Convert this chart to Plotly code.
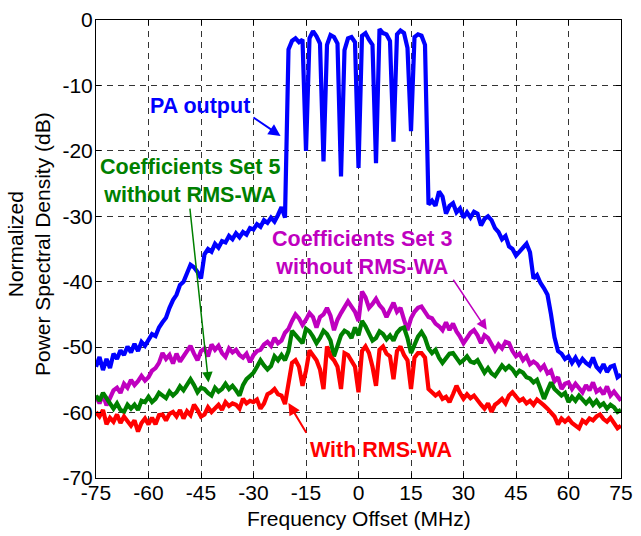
import plotly.graph_objects as go

# Frequency offset (MHz), 1 MHz steps
freq = list(range(-75, 76))

pa_output = [
    -53.0, -51.5, -53.5, -51.8, -53.2, -51.0, -51.8, -50.5, -51.2, -49.9,   # -75..-66
    -50.8, -49.5, -50.6, -49.2, -49.8, -48.8, -48.0, -48.3, -47.0, -46.2,   # -65..-56
    -45.5, -44.0, -42.8, -42.0, -40.5, -40.0, -38.6, -37.4, -37.8, -38.5,   # -55..-46
    -39.5, -35.8, -35.0, -35.4, -34.2, -34.8, -33.8, -34.0, -33.0, -33.5,   # -45..-36
    -32.6, -33.2, -32.4, -32.8, -31.8, -32.0, -31.2, -31.6, -30.6, -31.0,   # -35..-26
    -30.2, -30.8, -29.8, -28.6, -30.2, -4.5, -3.2, -2.8, -3.4, -3.0,        # -25..-16
    -20.0, -2.8, -1.7, -2.5, -3.6, -21.6, -3.8, -2.3, -2.6, -3.6,           # -15..-6
    -23.9, -4.6, -2.8, -2.6, -3.4, -22.6, -2.4, -2.0, -3.0, -3.8,           # -5..4
    -21.9, -1.4, -2.0, -2.2, -3.2, -18.6, -2.2, -1.6, -2.0, -4.3,           # 5..14
    -17.0, -2.6, -2.2, -2.4, -3.8, -28.2, -27.6, -28.4, -26.2, -27.0,       # 15..24
    -29.6, -28.4, -28.0, -29.4, -28.8, -30.2, -29.4, -30.2, -29.3, -29.6,   # 25..34
    -31.4, -30.4, -30.0, -30.6, -31.8, -32.4, -33.5, -33.0, -34.6, -35.0,   # 35..44
    -36.0, -35.4, -34.6, -34.2, -35.5, -39.5, -39.0, -40.2, -41.0, -42.0,   # 45..54
    -45.0, -48.5, -50.6, -51.0, -51.8, -51.4, -52.4, -51.6, -52.6, -51.8,   # 55..64
    -52.4, -52.8, -51.6, -53.0, -53.6, -52.6, -53.8, -53.0, -52.8, -54.6,   # 65..74
    -54.2,                                                                  # 75
]

set3_no_rmswa = [
    -57.5, -58.6, -57.2, -58.9, -57.8, -56.6, -56.2, -57.0, -55.6, -56.2,
    -55.0, -55.8, -55.2, -54.4, -55.1, -54.6, -53.6, -53.2, -52.4, -50.9,
    -51.8, -51.2, -52.5, -51.0, -52.2, -51.4, -50.4, -49.8, -51.0, -52.0,
    -50.6, -50.2, -51.4, -49.6, -50.4, -49.8, -50.9, -51.5, -50.2, -50.8,
    -50.4, -51.2, -51.6, -51.0, -52.3, -51.2, -50.6, -50.4, -49.6, -49.2,
    -49.8, -48.6, -49.4, -49.0, -47.8, -47.2, -46.0, -45.0, -45.6, -46.6,
    -45.8, -44.8, -45.4, -47.0, -45.4, -45.0, -44.0, -45.2, -47.4, -45.8,
    -44.8, -44.0, -43.0, -43.8, -44.6, -46.0, -41.5, -42.4, -44.0, -43.4,
    -42.6, -43.6, -44.2, -45.4, -44.4, -43.2, -44.6, -44.0, -45.8, -47.4,
    -45.6, -44.6, -44.0, -43.8, -44.6, -45.4, -45.6, -46.4, -46.8, -47.4,
    -46.2, -47.4, -46.4, -47.6, -48.4, -49.4, -48.6, -47.8, -47.4, -48.2,
    -49.4, -48.2, -48.6, -49.6, -50.5, -49.6, -50.2, -49.2, -49.4, -50.6,
    -51.4, -51.0, -52.0, -51.4, -52.6, -52.2, -52.6, -53.4, -52.8, -54.0,
    -53.6, -55.2, -54.6, -56.4, -55.6, -55.4, -56.4, -55.6, -56.2, -56.9,
    -55.8, -56.6, -55.4, -56.8, -56.4, -57.2, -56.0, -57.4, -56.8, -57.6,
    -58.2,
]

set5_no_rmswa = [
    -57.4, -58.2, -57.0, -57.9, -58.6, -59.4, -58.6, -59.6, -59.9, -58.8,
    -59.4, -58.8, -59.6, -58.2, -58.4, -57.6, -58.4, -57.9, -57.0, -57.4,
    -57.8, -56.8, -57.4, -56.9, -56.0, -56.6, -55.6, -54.9, -55.8, -56.9,
    -56.2, -56.4, -57.0, -57.4, -56.2, -56.8, -56.4, -55.6, -56.4, -55.9,
    -56.6, -57.4, -55.8, -54.9, -54.4, -53.9, -53.0, -52.0, -52.8, -53.4,
    -52.9, -51.4, -52.0, -51.2, -52.0, -50.6, -47.5, -48.2, -48.8, -49.4,
    -47.2, -47.6, -48.4, -49.4, -48.6, -47.5, -48.0, -49.0, -51.4, -49.6,
    -48.2, -47.5, -47.8, -48.6, -47.0, -48.2, -46.0, -46.8, -47.8, -49.0,
    -48.6, -47.6, -48.0, -48.8, -48.2, -49.0, -47.8, -47.2, -47.0, -48.6,
    -50.9, -49.6, -48.4, -47.7, -48.6, -50.2, -50.9, -50.4, -51.6, -52.4,
    -51.8, -51.0, -50.9, -51.6, -52.4, -52.0, -51.4, -52.2, -52.4, -52.0,
    -53.0, -53.9, -53.2, -54.0, -54.4, -53.6, -52.8, -53.4, -52.9, -53.4,
    -54.2, -53.6, -53.9, -54.6, -54.8, -55.4, -55.0, -56.4, -57.9, -56.6,
    -55.4, -56.4, -57.0, -57.4, -57.0, -58.4, -57.6, -58.2, -57.4, -57.9,
    -58.6, -58.0, -58.8, -58.2, -59.0, -58.6, -59.4, -58.8, -59.2, -59.9,
    -59.6,
]

with_rmswa = [
    -59.9, -60.6, -59.6, -61.8, -60.8, -61.4, -60.3, -61.6, -60.6, -61.4,
    -62.0, -61.2, -62.9, -61.6, -60.9, -61.8, -60.8, -61.8, -60.4, -60.3,
    -61.2, -60.2, -59.9, -60.6, -59.6, -60.9, -59.8, -60.4, -58.8, -59.6,
    -60.6, -60.3, -59.2, -59.9, -59.4, -58.8, -59.6, -58.4, -59.0, -58.6,
    -58.8, -59.4, -57.9, -58.6, -58.2, -58.4, -58.0, -59.4, -58.6, -57.2,
    -56.9, -56.4, -57.2, -57.4, -58.7, -55.0, -52.4, -52.0, -53.0, -55.9,
    -53.6, -50.5, -51.4, -52.0, -53.4, -56.4, -49.9, -51.4, -52.0, -53.0,
    -56.4, -50.9, -51.2, -52.0, -53.0, -56.9, -50.6, -49.9, -50.9, -53.0,
    -55.9, -50.4, -49.9, -51.0, -51.4, -54.9, -50.6, -49.9, -51.2, -52.0,
    -56.4, -51.6, -50.9, -50.9, -51.6, -56.4, -57.0, -57.4, -57.0, -57.9,
    -57.6, -58.4, -57.2, -55.9, -57.0, -57.9, -57.2, -57.8, -57.4, -58.2,
    -58.8, -59.4, -58.6, -59.9, -58.8, -58.4, -57.9, -58.6, -57.4, -56.9,
    -57.6, -58.2, -57.9, -58.6, -58.2, -58.8, -58.0, -58.4, -58.9, -59.4,
    -59.9, -60.6, -61.8, -60.9, -61.4, -60.9, -61.6, -62.0, -62.4, -61.2,
    -61.6, -60.9, -61.2, -60.6, -60.3, -61.0, -61.4, -60.8, -61.6, -62.4,
    -62.0,
]

x_ticks = [-75, -60, -45, -30, -15, 0, 15, 30, 45, 60, 75]
y_ticks = [-70, -60, -50, -40, -30, -20, -10, 0]

BLUE = "#0000FF"
MAGENTA = "#BF00BF"
GREEN = "#008000"
RED = "#FF0000"
FONT = "Liberation Sans, Arial, Helvetica, sans-serif"

fig = go.Figure()
for ys, col in [(pa_output, BLUE), (set3_no_rmswa, MAGENTA),
                (set5_no_rmswa, GREEN), (with_rmswa, RED)]:
    fig.add_trace(go.Scatter(x=freq, y=ys, mode="lines",
                             line=dict(color=col, width=4.2),
                             hoverinfo="skip"))

axis_common = dict(
    showline=True, linecolor="black", linewidth=1, mirror="ticks",
    ticks="inside", ticklen=5, tickcolor="black", tickwidth=1,
    showgrid=True, gridcolor="#333333", gridwidth=1, griddash="6px,5px",
    zeroline=False, tickfont=dict(family=FONT, size=21, color="black"),
    ticklabeloverflow="allow",
)
fig.update_xaxes(range=[-75, 75], tickvals=x_ticks,
                 ticktext=[str(v) for v in x_ticks], ticklabelstandoff=-4,
                 **axis_common)
fig.update_yaxes(range=[-70, 0], tickvals=y_ticks,
                 ticktext=[str(v) for v in y_ticks], ticklabelstandoff=-2,
                 **axis_common)

annotations = [
    # axis titles
    dict(text="Frequency Offset (MHz)", x=0.5, y=-0.0894, xref="paper", yref="paper",
         xanchor="center", yanchor="middle", showarrow=False,
         font=dict(family=FONT, size=21, color="black")),
    dict(text="Normalized<br>Power Spectral Density (dB)", x=-0.1278, y=0.5106,
         xref="paper", yref="paper", xanchor="center", yanchor="middle",
         textangle=-90, showarrow=False,
         font=dict(family=FONT, size=21, color="black")),
    # labels
    dict(text="<b>PA output</b>", x=-45.4, y=-13.1, showarrow=False,
         xanchor="center", yanchor="middle",
         font=dict(family=FONT, size=21.5, color=BLUE)),
    dict(text="<b>Coefficients Set 5<br>without RMS-WA</b>", x=-48.2, y=-24.6,
         showarrow=False, xanchor="center", yanchor="middle",
         font=dict(family=FONT, size=21.5, color=GREEN)),
    dict(text="<b>Coefficients Set 3<br>without RMS-WA</b>", x=1.1, y=-35.6,
         showarrow=False, xanchor="center", yanchor="middle",
         font=dict(family=FONT, size=21.5, color=MAGENTA)),
    dict(text="<b>With RMS-WA</b>", x=6.35, y=-65.7, showarrow=False,
         xanchor="center", yanchor="middle",
         font=dict(family=FONT, size=21.5, color=RED)),
    # arrows
    dict(text="", x=-22.27, y=-17.72, ax=-30.45, ay=-14.75, axref="x", ayref="y",
         showarrow=True, arrowhead=2, arrowsize=1.2, arrowwidth=2, arrowcolor=BLUE),
    dict(text="", x=-42.86, y=-55.4, ax=-48.21, ay=-28.6, axref="x", ayref="y",
         showarrow=True, arrowhead=2, arrowsize=1.4, arrowwidth=1.5, arrowcolor=GREEN),
    dict(text="", x=36.65, y=-47.36, ax=26.8, ay=-39.47, axref="x", ayref="y",
         showarrow=True, arrowhead=2, arrowsize=1.4, arrowwidth=1.5, arrowcolor=MAGENTA),
    dict(text="", x=-20.02, y=-58.53, ax=-14.66, ay=-63.3, axref="x", ayref="y",
         showarrow=True, arrowhead=2, arrowsize=1.2, arrowwidth=2, arrowcolor=RED),
]

fig.update_layout(
    width=641, height=536,
    margin=dict(l=96, r=13, t=8, b=58, pad=0),
    paper_bgcolor="white", plot_bgcolor="white",
    showlegend=False,
    font=dict(family=FONT, color="black"),
    annotations=annotations,
)

fig.write_html("out.html")
